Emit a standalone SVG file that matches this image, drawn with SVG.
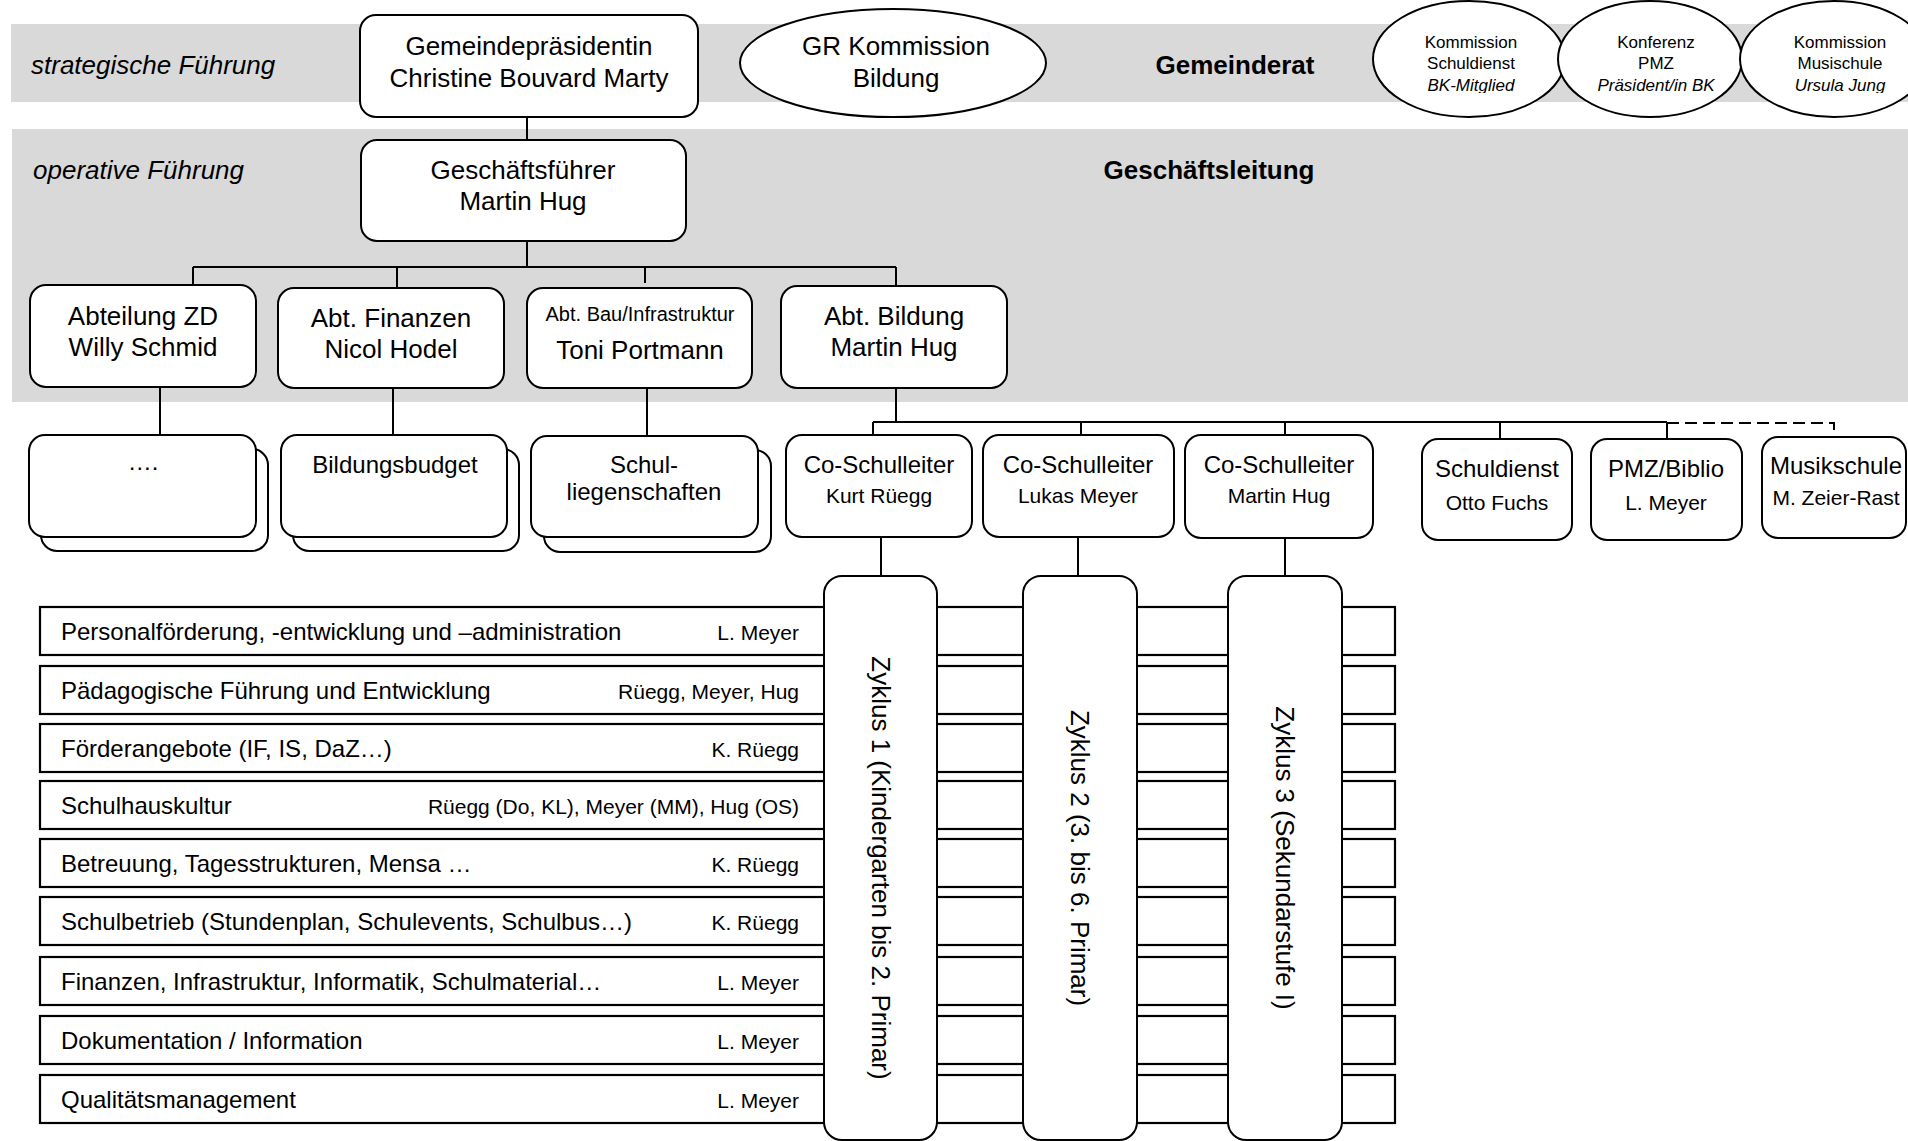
<svg xmlns="http://www.w3.org/2000/svg" width="1908" height="1141" viewBox="0 0 1908 1141">
<style>
text{font-family:"Liberation Sans",Arial,sans-serif;fill:#000}
.band{fill:#d9d9d9}
.box{fill:#fff;stroke:#000;stroke-width:2}
.row{fill:#fff;stroke:#000;stroke-width:2.2}
.ln{fill:none;stroke:#000;stroke-width:2}
.dash{fill:none;stroke:#000;stroke-width:2;stroke-dasharray:12 6}
.c{text-anchor:middle}
.e{text-anchor:end}
.f26{font-size:26px}
.f24{font-size:24px}
.f21{font-size:21px}
.f20{font-size:20px}
.f17{font-size:17px}
.it{font-style:italic}
.b{font-weight:bold}
</style>
<defs>
<clipPath id="circClip"><rect x="1360" y="0" width="548" height="93"/></clipPath>
</defs>
<rect width="1908" height="1141" fill="#fff"/>
<g id="bands">
<rect class="band" x="11" y="24" width="1897" height="78"/>
<rect class="band" x="12" y="129" width="1896" height="273"/>
<text class="f26 it" x="31" y="74">strategische Führung</text>
<text class="f26 it" x="33" y="179">operative Führung</text>
<text class="f26 b c" x="1235" y="74">Gemeinderat</text>
<text class="f26 b c" x="1209" y="179">Geschäftsleitung</text>
</g>
<g id="rows">
<rect class="row" x="40" y="607" width="1355" height="48"/>
<rect class="row" x="40" y="666" width="1355" height="48"/>
<rect class="row" x="40" y="724" width="1355" height="48"/>
<rect class="row" x="40" y="781" width="1355" height="48"/>
<rect class="row" x="40" y="839" width="1355" height="48"/>
<rect class="row" x="40" y="897" width="1355" height="48"/>
<rect class="row" x="40" y="957" width="1355" height="48"/>
<rect class="row" x="40" y="1016" width="1355" height="48"/>
<rect class="row" x="40" y="1075" width="1355" height="48"/>
<g class="f24">
<text x="61" y="640">Personalförderung, -entwicklung und –administration</text>
<text x="61" y="699">Pädagogische Führung und Entwicklung</text>
<text x="61" y="757">Förderangebote (IF, IS, DaZ…)</text>
<text x="61" y="814">Schulhauskultur</text>
<text x="61" y="872">Betreuung, Tagesstrukturen, Mensa …</text>
<text x="61" y="930">Schulbetrieb (Stundenplan, Schulevents, Schulbus…)</text>
<text x="61" y="990">Finanzen, Infrastruktur, Informatik, Schulmaterial…</text>
<text x="61" y="1049">Dokumentation / Information</text>
<text x="61" y="1108">Qualitätsmanagement</text>
</g>
<g class="f21 e">
<text x="799" y="640">L. Meyer</text>
<text x="799" y="699">Rüegg, Meyer, Hug</text>
<text x="799" y="757">K. Rüegg</text>
<text x="799" y="814">Rüegg (Do, KL), Meyer (MM), Hug (OS)</text>
<text x="799" y="872">K. Rüegg</text>
<text x="799" y="930">K. Rüegg</text>
<text x="799" y="990">L. Meyer</text>
<text x="799" y="1049">L. Meyer</text>
<text x="799" y="1108">L. Meyer</text>
</g>
</g>
<g id="connectors">
<path class="ln" d="M527 117V140M527 241V267M193 267H896M193 267V285M397 267V288M645 267V283M896 267V286"/>
<path class="ln" d="M160 387V435M393 388V435M647 388V436"/>
<path class="ln" d="M896 388V422M873 422H1667M873 422V435M1081 422V435M1285 422V435M1500 422V439M1667 422V439"/>
<path class="dash" d="M1667 423H1834V436"/>
<path class="ln" d="M881 537V576M1078 537V576M1285 538V576"/>
</g>
<g id="n-gemeindepraesidentin">
<rect class="box" x="360" y="15" width="338" height="102" rx="16"/>
<text class="f26 c" x="529" y="55">Gemeindepräsidentin</text>
<text class="f26 c" x="529" y="87">Christine Bouvard Marty</text>
</g>
<g id="n-gr-kommission">
<ellipse class="box" cx="893" cy="63" rx="153" ry="54"/>
<text class="f26 c" x="896" y="55">GR Kommission</text>
<text class="f26 c" x="896" y="87">Bildung</text>
</g>
<g id="n-kommission-schuldienst">
<ellipse class="box" cx="1469" cy="59" rx="96" ry="58"/>
<text class="f17 c" x="1471" y="48">Kommission</text>
<text class="f17 c" x="1471" y="69">Schuldienst</text>
<text class="f17 c it" x="1471" y="91" clip-path="url(#circClip)">BK-Mitglied</text>
</g>
<g id="n-konferenz-pmz">
<ellipse class="box" cx="1650" cy="59" rx="92" ry="58"/>
<text class="f17 c" x="1656" y="48">Konferenz</text>
<text class="f17 c" x="1656" y="69">PMZ</text>
<text class="f17 c it" x="1656" y="91" clip-path="url(#circClip)">Präsident/in BK</text>
</g>
<g id="n-kommission-musikschule">
<ellipse class="box" cx="1834" cy="59" rx="94" ry="58"/>
<text class="f17 c" x="1840" y="48">Kommission</text>
<text class="f17 c" x="1840" y="69">Musischule</text>
<text class="f17 c it" x="1840" y="91" clip-path="url(#circClip)">Ursula Jung</text>
</g>
<g id="n-geschaeftsfuehrer">
<rect class="box" x="361" y="140" width="325" height="101" rx="16"/>
<text class="f26 c" x="523" y="179">Geschäftsführer</text>
<text class="f26 c" x="523" y="210">Martin Hug</text>
</g>
<g id="n-abt-zd">
<rect class="box" x="30" y="285" width="226" height="102" rx="16"/>
<text class="f26 c" x="143" y="325">Abteilung ZD</text>
<text class="f26 c" x="143" y="356">Willy Schmid</text>
</g>
<g id="n-abt-finanzen">
<rect class="box" x="278" y="288" width="226" height="100" rx="16"/>
<text class="f26 c" x="391" y="327">Abt. Finanzen</text>
<text class="f26 c" x="391" y="358">Nicol Hodel</text>
</g>
<g id="n-abt-bau">
<rect class="box" x="527" y="288" width="225" height="100" rx="16"/>
<text class="f20 c" x="640" y="321">Abt. Bau/Infrastruktur</text>
<text class="f26 c" x="640" y="359">Toni Portmann</text>
</g>
<g id="n-abt-bildung">
<rect class="box" x="781" y="286" width="226" height="102" rx="16"/>
<text class="f26 c" x="894" y="325">Abt. Bildung</text>
<text class="f26 c" x="894" y="356">Martin Hug</text>
</g>
<g id="n-zd-sub">
<rect class="box" x="41" y="449" width="227" height="102" rx="16"/>
<rect class="box" x="29" y="435" width="227" height="102" rx="16"/>
<text class="f24 c" x="143" y="470">….</text>
</g>
<g id="n-bildungsbudget">
<rect class="box" x="293" y="449" width="226" height="102" rx="16"/>
<rect class="box" x="281" y="435" width="226" height="102" rx="16"/>
<text class="f24 c" x="395" y="473">Bildungsbudget</text>
</g>
<g id="n-schulliegenschaften">
<rect class="box" x="544" y="450" width="227" height="102" rx="16"/>
<rect class="box" x="531" y="436" width="227" height="101" rx="16"/>
<text class="f24 c" x="644" y="473">Schul-</text>
<text class="f24 c" x="644" y="500">liegenschaften</text>
</g>
<g id="n-co-rueegg">
<rect class="box" x="786" y="435" width="186" height="102" rx="16"/>
<text class="f24 c" x="879" y="473">Co-Schulleiter</text>
<text class="f21 c" x="879" y="503">Kurt Rüegg</text>
</g>
<g id="n-co-meyer">
<rect class="box" x="983" y="435" width="191" height="102" rx="16"/>
<text class="f24 c" x="1078" y="473">Co-Schulleiter</text>
<text class="f21 c" x="1078" y="503">Lukas Meyer</text>
</g>
<g id="n-co-hug">
<rect class="box" x="1185" y="435" width="188" height="103" rx="16"/>
<text class="f24 c" x="1279" y="473">Co-Schulleiter</text>
<text class="f21 c" x="1279" y="503">Martin Hug</text>
</g>
<g id="n-schuldienst">
<rect class="box" x="1422" y="439" width="150" height="101" rx="16"/>
<text class="f24 c" x="1497" y="477">Schuldienst</text>
<text class="f21 c" x="1497" y="510">Otto Fuchs</text>
</g>
<g id="n-pmz">
<rect class="box" x="1591" y="439" width="151" height="101" rx="16"/>
<text class="f24 c" x="1666" y="477">PMZ/Biblio</text>
<text class="f21 c" x="1666" y="510">L. Meyer</text>
</g>
<g id="n-musikschule">
<rect class="box" x="1762" y="437" width="144" height="101" rx="16"/>
<text class="f24 c" x="1836" y="474">Musikschule</text>
<text class="f21 c" x="1836" y="505">M. Zeier-Rast</text>
</g>
<g id="n-zyklus1">
<rect class="box" x="824" y="576" width="113" height="564" rx="18"/>
<text class="f26 c" transform="translate(881,868) rotate(90)" y="9">Zyklus 1 (Kindergarten bis 2. Primar)</text>
</g>
<g id="n-zyklus2">
<rect class="box" x="1023" y="576" width="114" height="564" rx="18"/>
<text class="f26 c" transform="translate(1080,858) rotate(90)" y="9">Zyklus 2 (3. bis 6. Primar)</text>
</g>
<g id="n-zyklus3">
<rect class="box" x="1228" y="576" width="114" height="564" rx="18"/>
<text class="f26 c" transform="translate(1285,858) rotate(90)" y="9">Zyklus 3 (Sekundarstufe I)</text>
</g>
</svg>
